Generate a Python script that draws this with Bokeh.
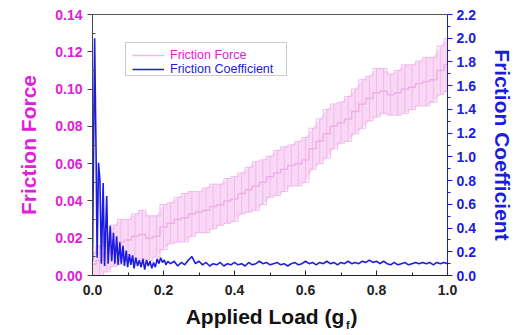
from bokeh.plotting import figure
from bokeh.models import (Range1d, LinearAxis, Legend, LegendItem, BoxAnnotation,
                          FixedTicker, ColumnDataSource, NumeralTickFormatter)
from bokeh.embed import file_html
from bokeh.resources import INLINE

# ---------------- data ----------------
x_force = [0.00, 0.02, 0.04, 0.06, 0.08, 0.10, 0.12, 0.14, 0.16, 0.18,
           0.20, 0.22, 0.24, 0.26, 0.28, 0.30, 0.32, 0.34, 0.36, 0.38,
           0.40, 0.42, 0.44, 0.46, 0.48, 0.50, 0.52, 0.54, 0.56, 0.58,
           0.60, 0.62, 0.64, 0.66, 0.68, 0.70, 0.72, 0.74, 0.76, 0.78,
           0.80, 0.82, 0.84, 0.86, 0.88, 0.90, 0.92, 0.94, 0.96, 0.98, 1.00]
friction_force = [0.006, 0.008, 0.012, 0.016, 0.018, 0.019, 0.021, 0.022, 0.020, 0.021,
                  0.026, 0.028, 0.030, 0.031, 0.033, 0.034, 0.035, 0.037, 0.038, 0.040,
                  0.041, 0.044, 0.046, 0.048, 0.050, 0.053, 0.055, 0.057, 0.059, 0.060,
                  0.062, 0.068, 0.072, 0.076, 0.080, 0.082, 0.084, 0.088, 0.092, 0.095,
                  0.098, 0.099, 0.097, 0.098, 0.100, 0.101, 0.103, 0.104, 0.105, 0.110, 0.113]
force_spread = [0.006, 0.008, 0.010, 0.011, 0.012, 0.011, 0.012, 0.013, 0.012, 0.011,
                0.012, 0.011, 0.012, 0.013, 0.012, 0.011, 0.012, 0.012, 0.011, 0.012,
                0.012, 0.011, 0.012, 0.013, 0.012, 0.011, 0.012, 0.012, 0.011, 0.012,
                0.012, 0.011, 0.012, 0.013, 0.012, 0.011, 0.012, 0.012, 0.013, 0.012,
                0.013, 0.012, 0.011, 0.012, 0.013, 0.012, 0.012, 0.013, 0.012, 0.013, 0.014]

x_coef = [0.000, 0.006, 0.010, 0.013, 0.017, 0.021, 0.025, 0.030, 0.034, 0.040,
          0.044, 0.050, 0.054, 0.059, 0.063, 0.068, 0.072, 0.077, 0.081, 0.086,
          0.090, 0.095, 0.099, 0.104, 0.108, 0.113, 0.117, 0.122, 0.127, 0.132,
          0.137, 0.142, 0.147, 0.152, 0.157, 0.162, 0.167, 0.172, 0.177, 0.182,
          0.187, 0.192, 0.197, 0.202, 0.207, 0.212,
          0.22, 0.23, 0.24, 0.25, 0.26, 0.27, 0.28, 0.29, 0.30, 0.31,
          0.32, 0.33, 0.34, 0.35, 0.36, 0.37, 0.38, 0.39, 0.40, 0.41,
          0.42, 0.43, 0.44, 0.45, 0.46, 0.47, 0.48, 0.49, 0.50, 0.51,
          0.52, 0.53, 0.54, 0.55, 0.56, 0.57, 0.58, 0.59, 0.60, 0.61,
          0.62, 0.63, 0.64, 0.65, 0.66, 0.67, 0.68, 0.69, 0.70, 0.71,
          0.72, 0.73, 0.74, 0.75, 0.76, 0.77, 0.78, 0.79, 0.80, 0.81,
          0.82, 0.83, 0.84, 0.85, 0.86, 0.87, 0.88, 0.89, 0.90, 0.91,
          0.92, 0.93, 0.94, 0.95, 0.96, 0.97, 0.98, 0.99, 1.00]
friction_coef = [0.12, 2.00, 1.05, 0.15, 0.95, 0.80, 0.10, 0.78, 0.08, 0.67,
                 0.10, 0.42, 0.12, 0.36, 0.10, 0.33, 0.09, 0.28, 0.10, 0.25,
                 0.08, 0.21, 0.07, 0.18, 0.09, 0.17, 0.06, 0.15, 0.08, 0.13,
                 0.07, 0.14, 0.05, 0.13, 0.08, 0.12, 0.06, 0.11, 0.07, 0.14,
                 0.10, 0.15, 0.11, 0.13, 0.09, 0.12,
                 0.10, 0.12, 0.08, 0.11, 0.09, 0.13, 0.16, 0.10, 0.12, 0.09,
                 0.11, 0.08, 0.10, 0.09, 0.11, 0.08, 0.10, 0.09, 0.11, 0.09,
                 0.10, 0.08, 0.11, 0.09, 0.10, 0.12, 0.10, 0.11, 0.09, 0.10,
                 0.11, 0.09, 0.10, 0.08, 0.10, 0.11, 0.09, 0.10, 0.12, 0.10,
                 0.11, 0.09, 0.11, 0.10, 0.12, 0.10, 0.11, 0.09, 0.11, 0.10,
                 0.12, 0.10, 0.11, 0.10, 0.12, 0.11, 0.13, 0.11, 0.12, 0.10,
                 0.12, 0.10, 0.09, 0.11, 0.09, 0.10, 0.11, 0.09, 0.10, 0.11,
                 0.10, 0.11, 0.10, 0.11, 0.09, 0.11, 0.10, 0.11, 0.10]

x_ticks = [0.0, 0.2, 0.4, 0.6, 0.8, 1.0]
force_ticks = [0.00, 0.02, 0.04, 0.06, 0.08, 0.10, 0.12, 0.14]
coef_ticks = [0.0, 0.2, 0.4, 0.6, 0.8, 1.0, 1.2, 1.4, 1.6, 1.8, 2.0, 2.2]
x_title_main = "Applied Load (g"
x_title_sub = "f"
x_title_end = ")"

PINK = "#e020d8"
PALE = "#f7c8f1"
BLUE = "#1c1ce0"
FONT = "Liberation Sans"

# ---------------- figure ----------------
p = figure(width=517, height=335, output_backend="svg", toolbar_location=None,
           x_range=Range1d(0, 1), y_range=Range1d(0, 0.14))
p.min_border_left = 92
p.min_border_right = 70
p.min_border_top = 14
p.min_border_bottom = 60
p.background_fill_color = "white"
p.border_fill_color = "white"
p.outline_line_color = "#555555"
p.grid.visible = False
p.extra_y_ranges = {"coef": Range1d(0, 2.2)}

lower = [m - s for m, s in zip(friction_force, force_spread)]
upper = [m + s for m, s in zip(friction_force, force_spread)]
src = ColumnDataSource(dict(x=x_force, m=friction_force, lo=lower, hi=upper))

p.varea(x="x", y1="lo", y2="hi", source=src, fill_color=PALE, fill_alpha=0.7)
p.segment(x0="x", y0="lo", x1="x", y1="hi", source=src, line_color="#eaa8e2", line_width=1, line_alpha=0.6)
p.step(x="x", y="lo", source=src, mode="center", line_color="#f0b8ea", line_width=1)
p.step(x="x", y="hi", source=src, mode="center", line_color="#f0b8ea", line_width=1)
force_line = p.step(x="x", y="m", source=src, mode="center", line_color="#eba8e3", line_width=1.5, line_alpha=0.8)

coef_line = p.line(x_coef, friction_coef, y_range_name="coef", line_color=BLUE, line_width=1.6)

# ---------------- axes ----------------
def style(ax, color, label_color):
    ax.major_label_text_font = FONT
    ax.major_label_text_font_style = "bold"
    ax.major_label_text_font_size = "14px"
    ax.major_label_text_color = label_color
    ax.axis_label_text_font = FONT
    ax.axis_label_text_font_style = "bold"
    ax.axis_label_text_font_size = "21px"
    ax.axis_label_text_color = label_color
    ax.axis_line_color = color
    ax.major_tick_line_color = color
    ax.minor_tick_line_color = color

xa = p.xaxis[0]
xa.ticker = FixedTicker(ticks=x_ticks, minor_ticks=[0.1, 0.3, 0.5, 0.7, 0.9])
xa.formatter = NumeralTickFormatter(format="0.0")
style(xa, "#222222", "#222222")
xa.major_tick_in = 5
xa.major_tick_out = 0
xa.minor_tick_in = 3
xa.minor_tick_out = 0
xa.major_label_standoff = 9
xa.axis_label = None

ya = p.yaxis[0]
ya.ticker = FixedTicker(ticks=force_ticks, minor_ticks=[0.01, 0.03, 0.05, 0.07, 0.09, 0.11, 0.13])
ya.formatter = NumeralTickFormatter(format="0.00")
style(ya, "#444444", PINK)
ya.major_tick_in = 0
ya.major_tick_out = 5
ya.minor_tick_in = 3
ya.minor_tick_out = 0
ya.major_label_standoff = 5
ya.axis_label = "Friction Force"
ya.axis_label_standoff = 12

ra = LinearAxis(y_range_name="coef", axis_label="Friction Coefficient")
ra.ticker = FixedTicker(ticks=coef_ticks, minor_ticks=[0.1, 0.3, 0.5, 0.7, 0.9, 1.1, 1.3, 1.5, 1.7, 1.9, 2.1])
ra.formatter = NumeralTickFormatter(format="0.0")
style(ra, BLUE, BLUE)
ra.major_tick_in = 0
ra.major_tick_out = 5
ra.minor_tick_in = 0
ra.minor_tick_out = 3
ra.major_label_standoff = 4
ra.axis_label_standoff = 12
p.add_layout(ra, "right")

# x-axis title (with subscript) carried by a second, line-less bottom axis
pos_main = (264.5 - 92) / 355
pos_end = (353.5 - 92) / 355
xt = LinearAxis(ticker=FixedTicker(ticks=[pos_main, pos_end], minor_ticks=[]),
                major_label_overrides={pos_main: x_title_main, pos_end: x_title_end})
xt.axis_line_color = None
xt.major_tick_line_color = None
xt.minor_tick_line_color = None
xt.major_label_text_font = FONT
xt.major_label_text_font_style = "bold"
xt.major_label_text_font_size = "21px"
xt.major_label_text_color = "#111111"
xt.major_label_standoff = 1
xt.axis_label = "\u00a0" * 51 + x_title_sub
xt.axis_label_text_font = FONT
xt.axis_label_text_font_style = "bold"
xt.axis_label_text_font_size = "11px"
xt.axis_label_text_color = "#111111"
xt.axis_label_standoff = -12
p.add_layout(xt, "below")

# ---------------- legend ----------------
p.add_layout(BoxAnnotation(left=(125 - 92) / 355, right=(286 - 92) / 355,
                           top=(275 - 42) / 261 * 0.14, bottom=(275 - 75) / 261 * 0.14,
                           fill_alpha=0, line_color="#555555", line_width=1))

def make_legend(label, rend, color, loc):
    lg = Legend(items=[LegendItem(label=label, renderers=[rend])], location=loc,
                border_line_alpha=0, background_fill_alpha=0, padding=0, margin=0,
                spacing=0, glyph_width=32, glyph_height=12, label_height=12,
                label_standoff=6, label_text_font=FONT, label_text_font_size="12.5px",
                label_text_color=color)
    p.add_layout(lg)

make_legend("Friction Force", force_line, PINK, (40, 213))
make_legend("Friction Coefficient", coef_line, BLUE, (40, 199))

open("out.html", "w").write(file_html(p, INLINE))
